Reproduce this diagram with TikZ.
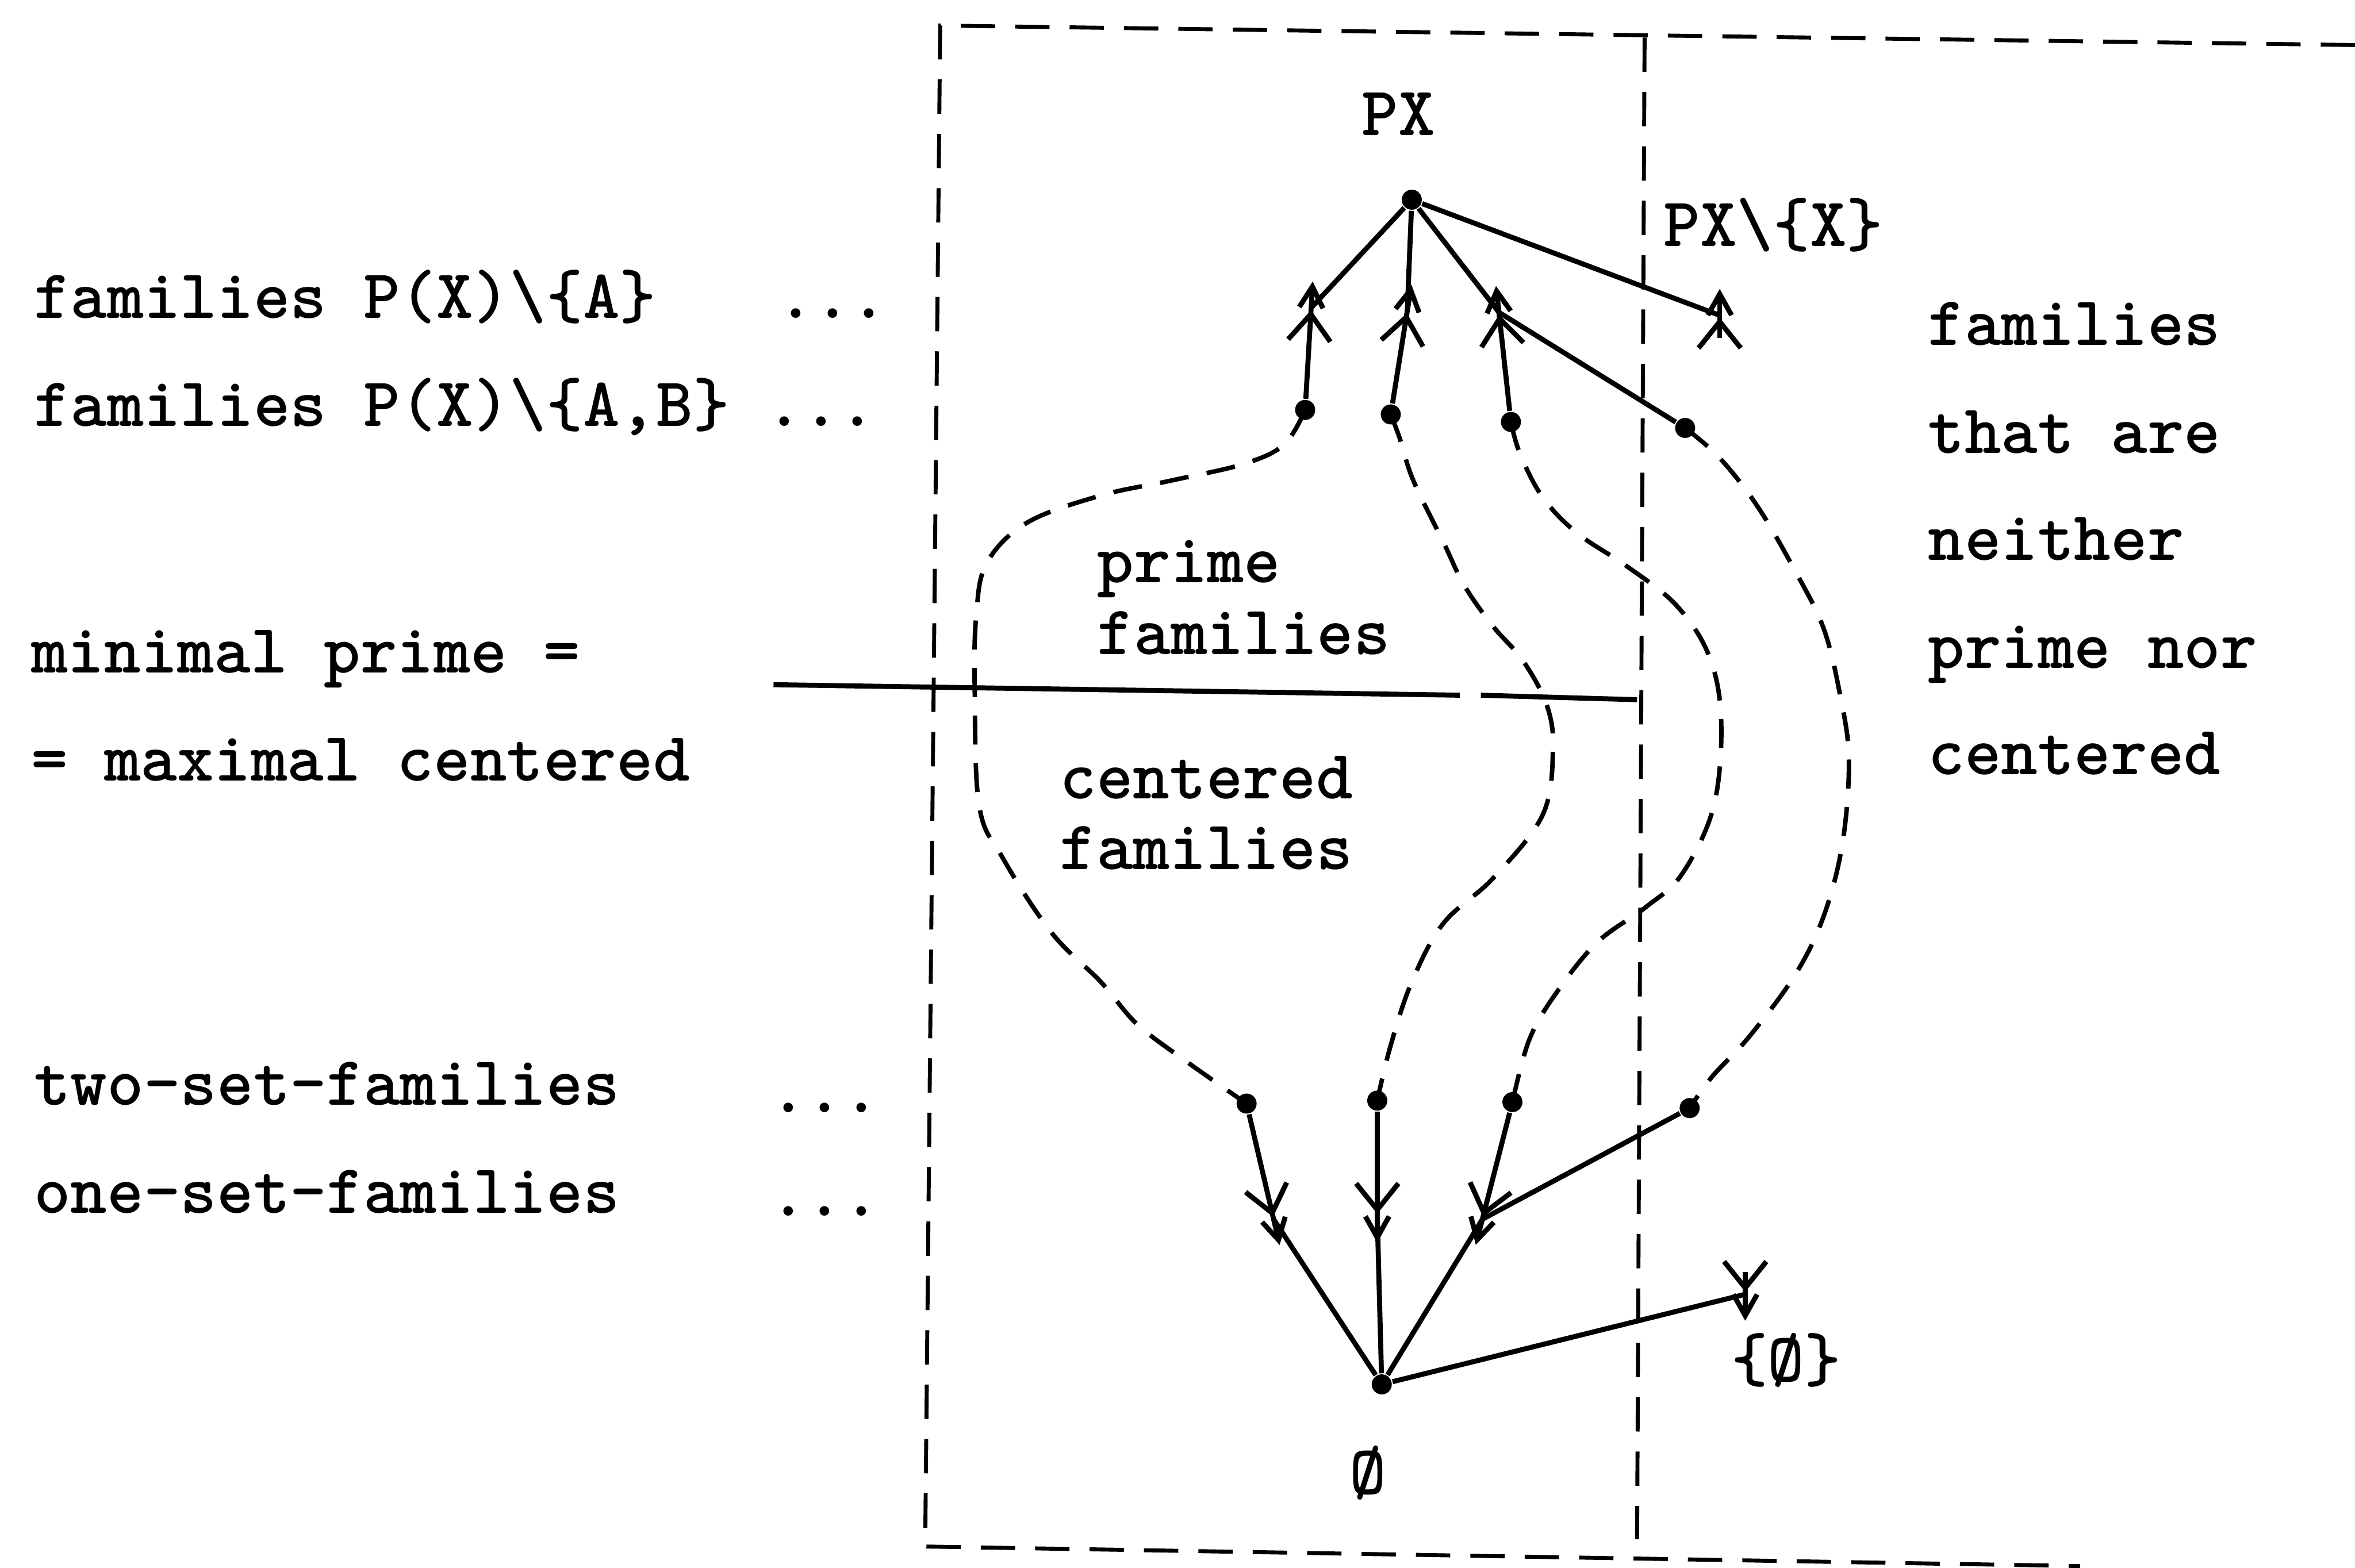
\documentclass[tikz,border=0pt]{standalone}
\usepackage{fontspec}
\usetikzlibrary{arrows.meta}
\newcommand\mytt{\ttfamily\bfseries\fontsize{13.2pt}{15pt}\selectfont}
\begin{document}
\begin{tikzpicture}[x=0.01cm,y=-0.01cm,
  txt/.style={inner sep=0pt,anchor=base west,font=\mytt},
  dot/.style={circle,fill,inner sep=0pt,minimum size=3.8pt},
  edge/.style={line width=0.95pt},
  arr/.style={line width=0.95pt,-{Straight Barb[length=5pt,width=8pt] Straight Barb[length=4pt,width=4.5pt,sep=-5pt]}},
  box/.style={line width=0.75pt,dash pattern=on 6.5pt off 3.8pt},
  curv/.style={line width=0.85pt,dash pattern=on 5.5pt off 3.5pt}]
\useasboundingbox (0,0) rectangle (1568,1044);
% dashed frame
\coordinate (tl) at (626,17);
\coordinate (tr) at (1568,30);
\coordinate (bl) at (616,1030);
\coordinate (br) at (1385,1043);
\coordinate (it) at (1095,25);
\coordinate (ib) at (1090,1025);
\draw[box] (tr) -- (tl) -- (bl) -- (br);
\draw[box] (it) -- (ib);
% horizontal separating line
\coordinate (h1) at (515,456);
\coordinate (h2) at (972,463);
\coordinate (h3) at (986,463);
\coordinate (h4) at (1090,466);
\draw[edge] (h1) -- (h2);
\draw[edge] (h3) -- (h4);
% nodes
\node[dot] (top) at (940,133) {};
\node[dot] (bot) at (920,922) {};
\node[dot] (d1) at (869,273) {};
\node[dot] (d2) at (926,276) {};
\node[dot] (d3) at (1006,281) {};
\node[dot] (d4) at (1122,285) {};
\node[dot] (e1) at (830,735) {};
\node[dot] (e2) at (917,733) {};
\node[dot] (e3) at (1007,734) {};
\node[dot] (e4) at (1125,738) {};
\coordinate (a1) at (873,205);
\coordinate (a2) at (937,207);
\coordinate (a3) at (998,208);
\coordinate (a4) at (1145,210);
\coordinate (a4b) at (1145,225);
\coordinate (b1) at (848,812);
\coordinate (b2) at (917,810);
\coordinate (b3) at (987,812);
\coordinate (b4) at (1162,862);
\coordinate (b4t) at (1162,847);
% upper part
\draw[edge] (top) -- (a1);
\draw[edge] (top) -- (a2);
\draw[edge] (top) -- (a3);
\draw[edge] (top) -- (a4);
\draw[arr] (d1) -- (a1);
\draw[arr] (d2) -- (a2);
\draw[arr] (d3) -- (a3);
\draw[edge] (d4) -- (a3);
\draw[arr] (a4b) -- (a4);
% lower part
\draw[edge] (bot) -- (b1);
\draw[edge] (bot) -- (b2);
\draw[edge] (bot) -- (b3);
\draw[edge] (bot) -- (b4);
\draw[arr] (e1) -- (b1);
\draw[arr] (e2) -- (b2);
\draw[arr] (e3) -- (b3);
\draw[edge] (e4) -- (b3);
\draw[arr] (b4t) -- (b4);
% dashed chains
\draw[curv] plot[smooth,tension=0.6] coordinates {(d1) (855,296) (828,309) (780,320) (733,330) (684,348) (657,375) (650,410) (649,460) (652,537) (668,572) (700,621) (733,654) (757,682) (790,707) (e1)};
\draw[curv] plot[smooth,tension=0.6] coordinates {(d2) (932,292) (941,320) (961,361) (975,390) (994,417) (1014,440) (1030,470) (1034,500) (1027,543) (994,585) (961,615) (940,654) (926,696) (e2)};
\draw[curv] plot[smooth,tension=0.6] coordinates {(d3) (1012,302) (1027,331) (1050,355) (1083,377) (1116,403) (1138,437) (1146,480) (1141,537) (1120,582) (1096,604) (1063,628) (1035,663) (1018,693) (e3)};
\draw[curv] plot[smooth,tension=0.6] coordinates {(d4) (1145,305) (1170,337) (1194,378) (1214,418) (1225,462) (1231,505) (1227,560) (1215,608) (1196,648) (1165,690) (1140,717) (e4)};
% labels
\node[txt] (px) at (906,90) {PX};
\node[txt] (pxx) at (1107,164) {PX\textbackslash\{X\}};
\node[txt] (es) at (1152,920) {\{Ø\}};
\node[txt] (e0) at (898,995) {Ø};
\node[txt] (pr1) at (730,388) {prime};
\node[txt] (pr2) at (730,436) {families};
\node[txt] (ce1) at (705,532) {centered};
\node[txt] (ce2) at (705,579) {families};
\node[txt] (r1) at (1283,230) {families};
\node[txt] (r2) at (1283,302) {that are};
\node[txt] (r3) at (1283,373) {neither};
\node[txt] (r4) at (1283,445) {prime nor};
\node[txt] (r5) at (1283,516) {centered};
\node[txt] (l1) at (22,212) {families P(X)\textbackslash\{A\}};
\node[txt] (l1d) at (517,212) {...};
\node[txt] (l2) at (22,284) {families P(X)\textbackslash\{A,B\} ...};
\node[txt] (l3) at (20,448) {minimal prime =};
\node[txt] (l4) at (20,520) {= maximal centered};
\node[txt] (l5) at (22,736) {two-set-families};
\node[txt] (l5d) at (512,741) {...};
\node[txt] (l6) at (22,808) {one-set-families};
\node[txt] (l6d) at (512,810) {...};
\end{tikzpicture}
\end{document}
